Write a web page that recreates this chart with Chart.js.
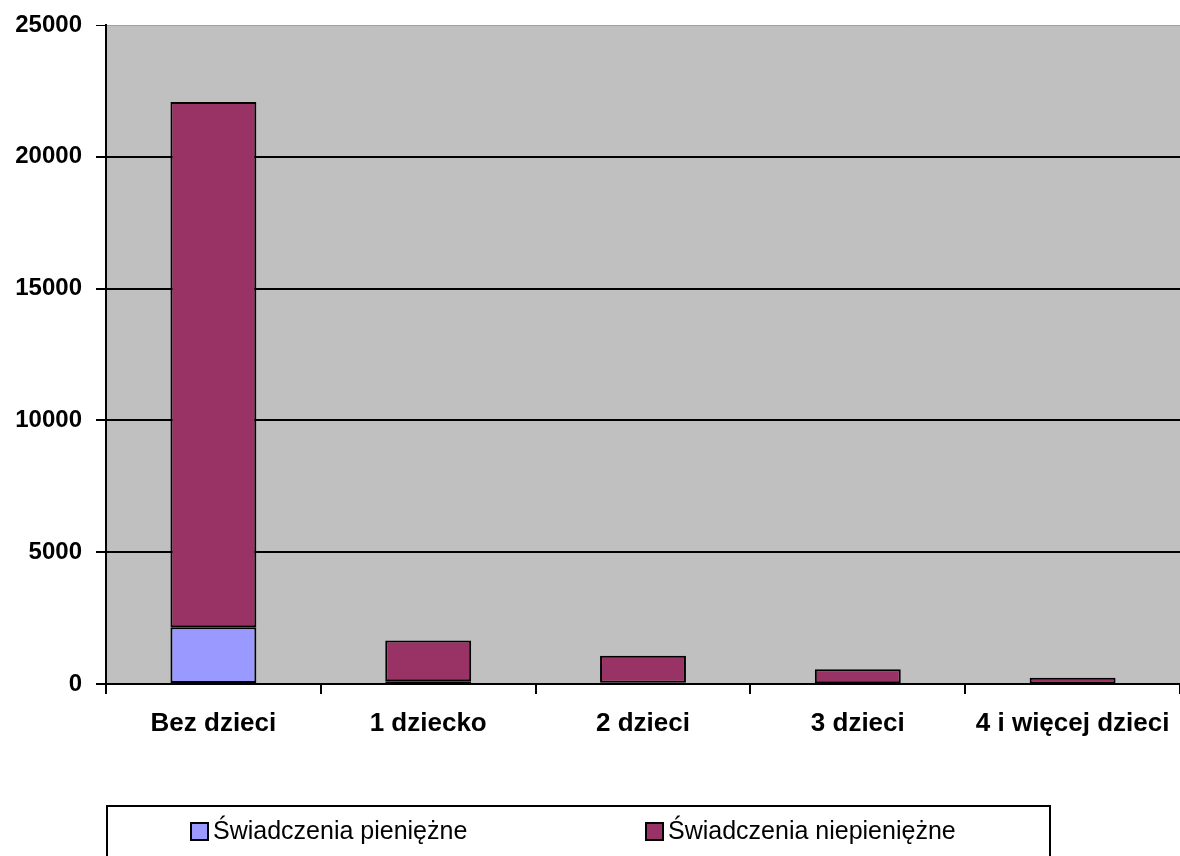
<!DOCTYPE html>
<html>
<head>
<meta charset="utf-8">
<script src="https://cdn.jsdelivr.net/npm/chart.js@4/dist/chart.umd.min.js"></script>
<style>
  html, body { margin: 0; padding: 0; background: #fff; }
  #wrap { width: 1180px; height: 856px; position: relative; }
</style>
</head>
<body>
<div id="wrap"><canvas id="cht"></canvas></div>
<script>
// data
const categories = ["Bez dzieci", "1 dziecko", "2 dzieci", "3 dzieci", "4 i więcej dzieci"];
const pieniezne = [2150, 100, 50, 30, 15];
const niepieniezne = [19930, 1550, 1020, 530, 225];
const seriesNames = ["Świadczenia pieniężne", "Świadczenia niepieniężne"];
const yTicks = [0, 5000, 10000, 15000, 20000, 25000];

const font = '"Liberation Sans", Arial, sans-serif';
const barColors = ["#9999FF", "#993366"];

// grey plot background
const plotBg = {
  id: "plotBg",
  beforeDraw(chart) {
    const a = chart.chartArea, ctx = chart.ctx;
    ctx.save();
    ctx.fillStyle = "#C0C0C0";
    ctx.fillRect(a.left, a.top, a.right - a.left, a.bottom - a.top);
    ctx.restore();
  }
};

// boxed legend like the original sheet
const boxLegend = {
  id: "boxLegend",
  afterDraw(chart) {
    const ctx = chart.ctx;
    ctx.save();
    ctx.strokeStyle = "#000";
    ctx.lineWidth = 2;
    ctx.strokeRect(107, 806, 943, 70);
    const xs = [191, 646];
    ctx.font = "25px " + font;
    ctx.textBaseline = "middle";
    chart.data.datasets.forEach((ds, i) => {
      ctx.fillStyle = ds.backgroundColor;
      ctx.fillRect(xs[i], 823, 17, 17);
      ctx.strokeRect(xs[i], 823, 17, 17);
      ctx.fillStyle = "#000";
      ctx.fillText(ds.label, xs[i] + 22, 832);
    });
    ctx.restore();
  }
};

new Chart("cht", {
  type: "bar",
  data: {
    labels: categories,
    datasets: [
      { label: seriesNames[0], data: pieniezne, backgroundColor: barColors[0] },
      { label: seriesNames[1], data: niepieniezne, backgroundColor: barColors[1] }
    ].map(d => Object.assign(d, {
      borderColor: "#000",
      borderWidth: 2,
      borderSkipped: false,
      categoryPercentage: 1,
      barPercentage: 0.4
    }))
  },
  options: {
    responsive: true,
    maintainAspectRatio: false,
    animation: false,
    layout: { padding: { top: 25, right: 0, left: 0, bottom: 102 } },
    plugins: {
      legend: { display: false },
      tooltip: { enabled: false }
    },
    scales: {
      x: {
        stacked: true,
        afterFit(s) { s.height = 70; s.paddingLeft = 0; s.paddingRight = 0; },
        grid: { offset: true, drawOnChartArea: false, color: "#000", lineWidth: 2, tickLength: 10 },
        border: { color: "#000", width: 2 },
        ticks: {
          color: "#000", padding: 14, maxRotation: 0, autoSkip: false,
          font: { family: font, size: 26, weight: "bold" }
        }
      },
      y: {
        stacked: true,
        min: 0, max: 25000,
        afterFit(s) { s.width = 106; s.paddingTop = 0; s.paddingBottom = 0; },
        afterBuildTicks(s) { s.ticks = yTicks.map(v => ({ value: v })); },
        grid: {
          color: c => c.tick && c.tick.value === 25000 ? "#A0A0A0" : "#000",
          lineWidth: c => c.tick && c.tick.value === 25000 ? 1 : 2,
          tickColor: "#000",
          tickLength: 10
        },
        border: { color: "#000", width: 2 },
        ticks: {
          color: "#000", padding: 14,
          callback: v => String(v),
          font: { family: font, size: 24, weight: "bold" }
        }
      }
    }
  },
  plugins: [plotBg, boxLegend]
});
</script>
</body>
</html>
